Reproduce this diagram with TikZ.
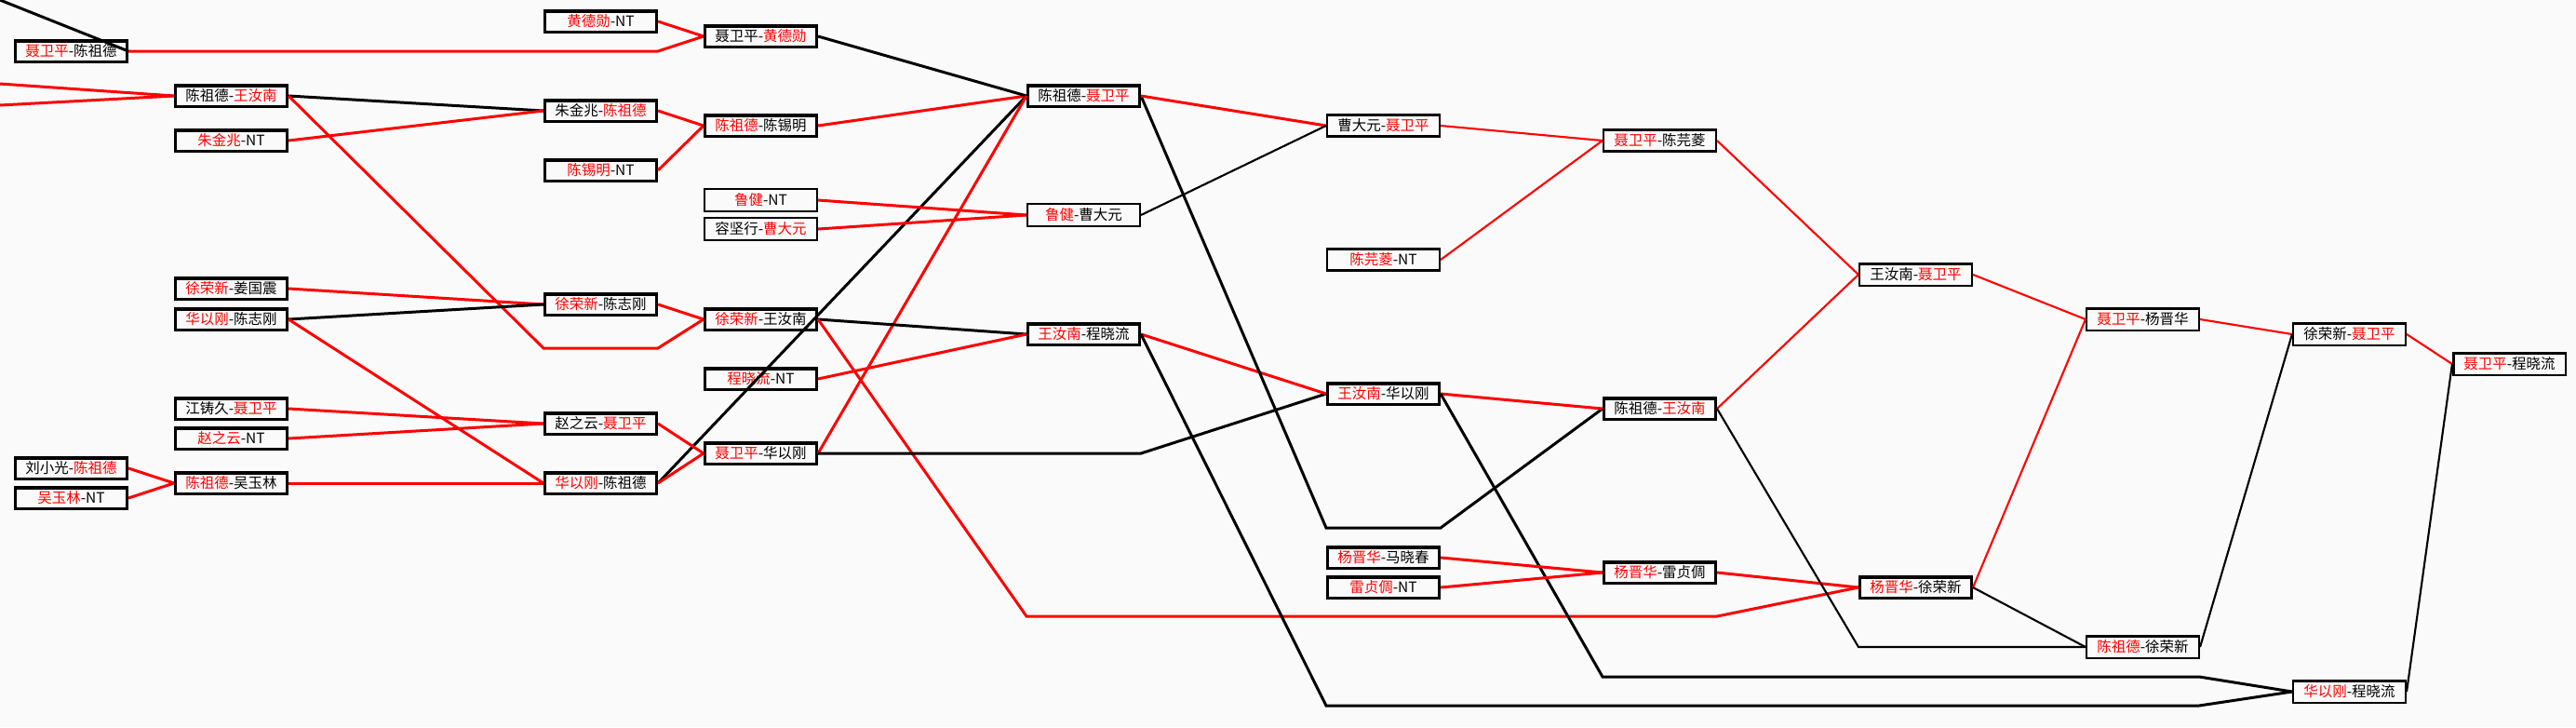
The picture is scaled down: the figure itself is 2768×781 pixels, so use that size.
\documentclass[tikz,border=0pt]{standalone}
\usepackage{fontspec}
\setmainfont{Noto Sans CJK SC}
\newcommand{\RedTxt}[1]{\textcolor{red}{#1}}
\begin{document}
\begin{tikzpicture}[x=0.01cm,y=-0.01cm,
  box/.style={draw=black, rectangle, minimum width=1.195cm, minimum height=0.225cm, inner sep=0pt, line width=1pt, font=\fontsize{4.4pt}{5pt}\selectfont},
  thinbox/.style={box, line width=0.57pt, minimum width=1.21cm, minimum height=0.24cm},
  midbox/.style={box, line width=0.72pt, minimum width=1.205cm, minimum height=0.235cm},
  rl/.style={draw=red, line width=0.85pt},
  bl/.style={draw=black, line width=0.85pt},
  rlt/.style={draw=red, line width=0.6pt},
  blt/.style={draw=black, line width=0.6pt}]
\fill[white!98!black] (0,0) rectangle (2768,781);
\useasboundingbox (0,0) rectangle (2768,781);

% column 0
\node[box] (n00) at (76.5,55) {\RedTxt{聂卫平}-陈祖德};
\node[box] (n01) at (76.5,503) {刘小光-\RedTxt{陈祖德}};
\node[box] (n02) at (76.5,535) {\RedTxt{吴玉林}-NT};
% column 1
\node[box] (n10) at (248.5,103) {陈祖德-\RedTxt{王汝南}};
\node[box] (n11) at (248.5,151) {\RedTxt{朱金兆}-NT};
\node[box] (n12) at (248.5,310) {\RedTxt{徐荣新}-姜国震};
\node[box] (n13) at (248.5,343) {\RedTxt{华以刚}-陈志刚};
\node[box] (n14) at (248.5,439) {江铸久-\RedTxt{聂卫平}};
\node[box] (n15) at (248.5,471) {\RedTxt{赵之云}-NT};
\node[box] (n16) at (248.5,519) {\RedTxt{陈祖德}-吴玉林};
% column 2
\node[box] (n20) at (645.5,23) {\RedTxt{黄德勋}-NT};
\node[box] (n21) at (645.5,119) {朱金兆-\RedTxt{陈祖德}};
\node[box] (n22) at (645.5,183) {\RedTxt{陈锡明}-NT};
\node[box] (n23) at (645.5,327) {\RedTxt{徐荣新}-陈志刚};
\node[box] (n24) at (645.5,455) {赵之云-\RedTxt{聂卫平}};
\node[box] (n25) at (645.5,519) {\RedTxt{华以刚}-陈祖德};
% column 3
\node[box] (n30) at (817.5,39) {聂卫平-\RedTxt{黄德勋}};
\node[box] (n31) at (817.5,135) {\RedTxt{陈祖德}-陈锡明};
\node[thinbox] (n32) at (817.5,215) {\RedTxt{鲁健}-NT};
\node[thinbox] (n33) at (817.5,246) {容坚行-\RedTxt{曹大元}};
\node[box] (n34) at (817.5,343) {\RedTxt{徐荣新}-王汝南};
\node[box] (n35) at (817.5,407) {\RedTxt{程晓流}-NT};
\node[box] (n36) at (817.5,487) {\RedTxt{聂卫平}-华以刚};
% column 4
\node[box] (n40) at (1164.5,103) {陈祖德-\RedTxt{聂卫平}};
\node[thinbox] (n41) at (1164.5,231) {\RedTxt{鲁健}-曹大元};
\node[box] (n42) at (1164.5,359) {\RedTxt{王汝南}-程晓流};
% column 5
\node[midbox] (n50) at (1486.5,135) {曹大元-\RedTxt{聂卫平}};
\node[midbox] (n51) at (1486.5,279) {\RedTxt{陈芫菱}-NT};
\node[box] (n52) at (1486.5,423) {\RedTxt{王汝南}-华以刚};
\node[box] (n53) at (1486.5,599) {\RedTxt{杨晋华}-马晓春};
\node[box] (n54) at (1486.5,631) {\RedTxt{雷贞倜}-NT};
% column 6
\node[midbox] (n60) at (1783.5,151) {\RedTxt{聂卫平}-陈芫菱};
\node[box] (n61) at (1783.5,439) {陈祖德-\RedTxt{王汝南}};
\node[box] (n62) at (1783.5,615) {\RedTxt{杨晋华}-雷贞倜};
% column 7
\node[midbox] (n70) at (2058.5,295) {王汝南-\RedTxt{聂卫平}};
\node[box] (n71) at (2058.5,631) {\RedTxt{杨晋华}-徐荣新};
% column 8
\node[midbox] (n80) at (2302.5,343) {\RedTxt{聂卫平}-杨晋华};
\node[midbox] (n81) at (2302.5,695) {\RedTxt{陈祖德}-徐荣新};
% column 9
\node[midbox] (n90) at (2524.5,359) {徐荣新-\RedTxt{聂卫平}};
\node[midbox] (n91) at (2524.5,743) {\RedTxt{华以刚}-程晓流};
% column 10
\node[midbox] (n100) at (2696.5,391) {\RedTxt{聂卫平}-程晓流};

% free ends and bends
\coordinate (tl) at (0,0);
\coordinate (la) at (0,90);
\coordinate (lb) at (0,113);
\coordinate (p1) at (707,55);
\coordinate (w1) at (584,374);
\coordinate (w2) at (707,374);
\coordinate (h1) at (1226,487);
\coordinate (c1) at (1425,567);
\coordinate (c2) at (1548,567);
\coordinate (x1) at (1103,662);
\coordinate (x2) at (1845,662);
\coordinate (q1) at (1425,758);
\coordinate (q2) at (2363,758);
\coordinate (g1) at (1722,727);
\coordinate (g2) at (2363,727);
\coordinate (d1) at (1997,695);

% connectors
\draw[bl] (tl) -- (n00.east);
\draw[rl] (n00.east) -- (p1) -- (n30.west);
\draw[rl] (n20.east) -- (n30.west);
\draw[rl] (la) -- (n10.west);
\draw[rl] (lb) -- (n10.west);
\draw[bl] (n10.east) -- (n21.west);
\draw[rl] (n11.east) -- (n21.west);
\draw[rl] (n10.east) -- (w1) -- (w2) -- (n34.west);
\draw[rl] (n21.east) -- (n31.west);
\draw[rl] (n22.east) -- (n31.west);
\draw[rl] (n31.east) -- (n40.west);
\draw[bl] (n30.east) -- (n40.west);
\draw[bl] (n25.east) -- (n40.west);
\draw[rl] (n36.east) -- (n40.west);
\draw[rl] (n12.east) -- (n23.west);
\draw[bl] (n13.east) -- (n23.west);
\draw[rl] (n13.east) -- (n25.west);
\draw[rl] (n14.east) -- (n24.west);
\draw[rl] (n15.east) -- (n24.west);
\draw[rl] (n16.east) -- (n25.west);
\draw[rl] (n01.east) -- (n16.west);
\draw[rl] (n02.east) -- (n16.west);
\draw[rl] (n23.east) -- (n34.west);
\draw[rl] (n24.east) -- (n36.west);
\draw[rl] (n25.east) -- (n36.west);
\draw[bl] (n34.east) -- (n42.west);
\draw[rl] (n35.east) -- (n42.west);
\draw[rl] (n34.east) -- (x1) -- (x2) -- (n71.west);
\draw[bl] (n36.east) -- (h1) -- (n52.west);
\draw[rl] (n42.east) -- (n52.west);
\draw[bl] (n42.east) -- (q1) -- (q2) -- (n91.west);
\draw[bl] (n40.east) -- (c1) -- (c2) -- (n61.west);
\draw[rl] (n40.east) -- (n50.west);
\draw[rl] (n32.east) -- (n41.west);
\draw[rl] (n33.east) -- (n41.west);
\draw[blt] (n41.east) -- (n50.west);
\draw[rl] (n52.east) -- (n61.west);
\draw[bl] (n52.east) -- (g1) -- (g2) -- (n91.west);
\draw[rl] (n53.east) -- (n62.west);
\draw[rl] (n54.east) -- (n62.west);
\draw[rl] (n62.east) -- (n71.west);
\draw[rlt] (n50.east) -- (n60.west);
\draw[rlt] (n51.east) -- (n60.west);
\draw[rlt] (n60.east) -- (n70.west);
\draw[rlt] (n61.east) -- (n70.west);
\draw[blt] (n61.east) -- (d1) -- (n81.west);
\draw[rlt] (n70.east) -- (n80.west);
\draw[rlt] (n71.east) -- (n80.west);
\draw[blt] (n71.east) -- (n81.west);
\draw[rlt] (n80.east) -- (n90.west);
\draw[blt] (n81.east) -- (n90.west);
\draw[rlt] (n90.east) -- (n100.west);
\draw[blt] (n91.east) -- (n100.west);
\end{tikzpicture}
\end{document}
